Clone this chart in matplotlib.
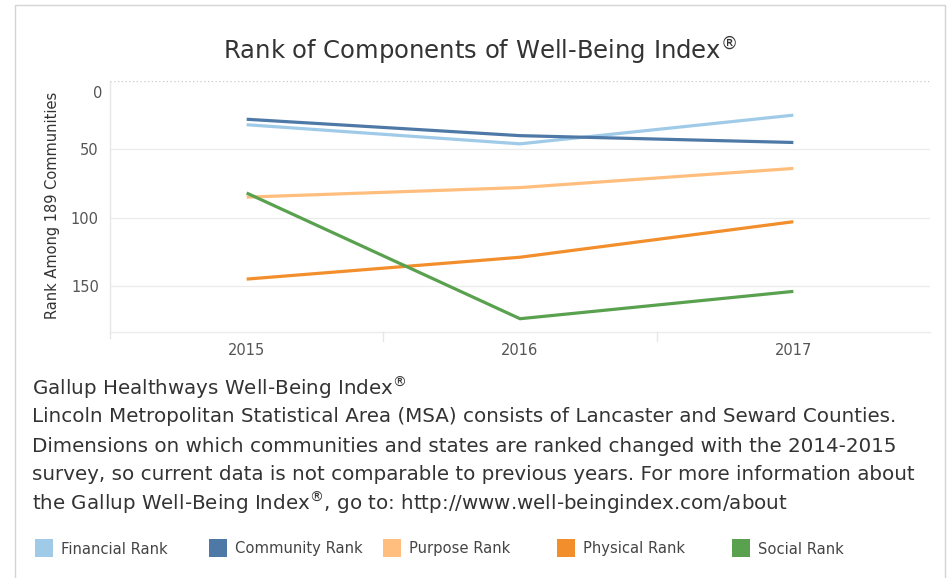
import matplotlib
matplotlib.use("Agg")
import matplotlib.pyplot as plt
from matplotlib.patches import Rectangle
from matplotlib.lines import Line2D

years = ["2015", "2016", "2017"]
series_names = ["Financial Rank", "Community Rank", "Purpose Rank", "Physical Rank", "Social Rank"]
financial = [32, 46, 25]
community = [28, 40, 45]
purpose = [85, 78, 64]
physical = [145, 129, 103]
social = [82, 174, 154]
yticks = [0, 50, 100, 150]

values = [financial, community, purpose, physical, social]
colors = ["#a0cbe8", "#4e79a7", "#ffbe7d", "#f28e2b", "#59a14f"]

W, H = 948, 578
fig = plt.figure(figsize=(W / 100, H / 100), dpi=100)
fig.patch.set_facecolor("white")

def fx(px):
    return px / W

def fy(py):
    return 1 - py / H

REG = r"$^{\circledR}$"

# outer border
fig.patches.append(Rectangle((fx(15), fy(600)), fx(945) - fx(15), fy(5) - fy(600),
                             transform=fig.transFigure, fill=False,
                             edgecolor="#d4d4d4", linewidth=1.0))

left, right, top, bottom = 110, 930, 81, 331.7
ax = fig.add_axes([fx(left), fy(bottom), fx(right) - fx(left), fy(top) - fy(bottom)])
ax.set_facecolor("white")

x = list(range(len(years)))
for i in range(len(values)):
    ax.plot(x, values[i], color=colors[i], linewidth=2.3, solid_capstyle="butt",
            solid_joinstyle="round", zorder=3)

ax.set_xlim(-0.5, len(years) - 0.5)
ax.set_ylim(183.5, 0)

for s in ["top", "right", "left", "bottom"]:
    ax.spines[s].set_visible(False)

for v in yticks:
    if v == 0:
        ax.axhline(v, color="#c8c8c8", linewidth=0.9, linestyle=(0, (1, 2)), zorder=1)
    else:
        ax.axhline(v, color="#ebebeb", linewidth=0.9, zorder=1)
ax.axhline(183.5, color="#ebebeb", linewidth=1.0, zorder=1, clip_on=False)
ax.add_line(Line2D([0, 0], [1.0, -0.025], transform=ax.transAxes,
                   color="#e6e6e6", linewidth=1.0, clip_on=False))
for b in [0.5, 1.5]:
    ax.add_line(Line2D([b, b], [183.5, 190], color="#e6e6e6", linewidth=1.0, clip_on=False))

ax.set_yticks(yticks)
ax.set_yticklabels(["" if v == 0 else str(v) for v in yticks])
ax.set_xticks(x)
ax.set_xticklabels(years)
ax.tick_params(axis="both", length=0, labelsize=10.5, labelcolor="#555555")
ax.tick_params(axis="y", pad=8)
ax.tick_params(axis="x", pad=8)
# Tableau pushes the top "0" label inside the pane
fig.text(fx(102), fy(93), str(yticks[0]), ha="right", va="center",
         fontsize=10.5, color="#555555")

fig.text(fx(53), fy(205), "Rank Among 189 Communities", rotation=90,
         ha="center", va="center", fontsize=10.5, color="#333333")

fig.text(fx(480), fy(51), "Rank of Components of Well-Being Index" + REG,
         ha="center", va="center", fontsize=17.5, color="#333333")

lines = [
    "Gallup Healthways Well-Being Index" + REG,
    "Lincoln Metropolitan Statistical Area (MSA) consists of Lancaster and Seward Counties.",
    "Dimensions on which communities and states are ranked changed with the 2014-2015",
    "survey, so current data is not comparable to previous years. For more information about",
    "the Gallup Well-Being Index" + REG + ", go to: http://www.well-beingindex.com/about",
]
ys = [388, 417, 446, 475, 503]
for t, yy in zip(lines, ys):
    fig.text(fx(32), fy(yy), t, ha="left", va="center",
             fontsize=14.3, color="#333333")

sq_x = [35, 209, 383, 557, 732]
for i, name in enumerate(series_names):
    fig.patches.append(Rectangle((fx(sq_x[i]), fy(557)), fx(18), 18 / H,
                                 transform=fig.transFigure, facecolor=colors[i],
                                 edgecolor="none"))
    fig.text(fx(sq_x[i] + 26), fy(549), name, ha="left", va="center",
             fontsize=10.6, color="#444444")

fig.savefig("out.png", dpi=100, facecolor="white")
